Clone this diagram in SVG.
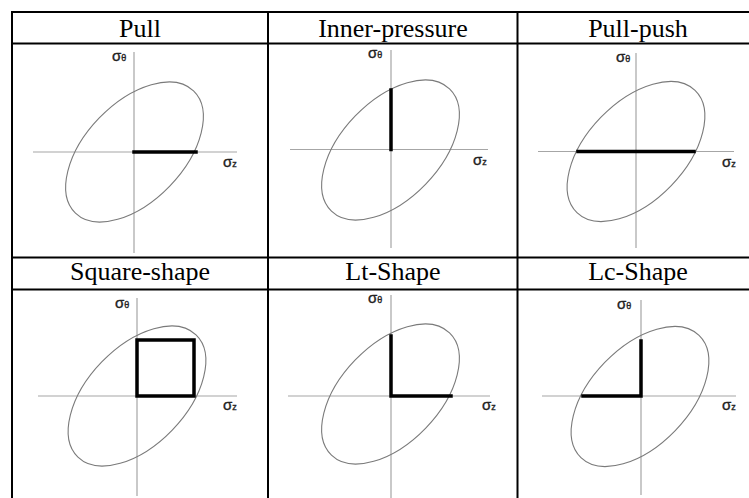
<svg xmlns="http://www.w3.org/2000/svg" width="749" height="498" viewBox="0 0 749 498">
<style>
.grid{stroke:#000;stroke-width:2;fill:none}
.hdr{font-family:"Liberation Serif","Times New Roman",serif;font-size:26px;fill:#000;text-anchor:middle}
.axis{stroke:#a6a6a6;stroke-width:1.2;fill:none}
.ell{stroke:#7a7a7a;stroke-width:1.1;fill:none}
.path{stroke:#000;stroke-width:3.5;fill:none;stroke-linecap:square}
.sig{font-family:"Liberation Sans",Arial,sans-serif;font-size:15px;fill:#222;stroke:#222;stroke-width:0.35}
.sub{font-size:9px}
</style>
<defs>
<ellipse id="el" cx="0" cy="0" rx="85" ry="49" transform="rotate(-46)" class="ell"/>
</defs>
<rect width="749" height="498" fill="#fff"/>
<g id="table">
<path class="grid" d="M12,12 H749 M12,43.5 H749 M12,257.5 H749 M12,289.5 H749 M12,11 V498 M268,12 V498 M517.5,12 V498"/>
</g>
<g id="headers">
<text class="hdr" x="140" y="37">Pull</text>
<text class="hdr" x="393" y="37">Inner-pressure</text>
<text class="hdr" x="638" y="37">Pull-push</text>
<text class="hdr" x="140" y="280">Square-shape</text>
<text class="hdr" x="393" y="280">Lt-Shape</text>
<text class="hdr" x="638" y="280">Lc-Shape</text>
</g>
<g id="pull">
<path class="axis" d="M134,52 V253 M33,152 H237"/>
<use href="#el" transform="translate(134.5,152)"/>
<path class="path" d="M134,152 H196"/>
<text class="sig" x="112" y="61">σ<tspan class="sub">θ</tspan></text>
<text class="sig" x="223" y="167">σ<tspan class="sub">z</tspan></text>
</g>
<g id="inner-pressure">
<path class="axis" d="M391,50 V248 M290,149.5 H488"/>
<use href="#el" transform="translate(390.5,150)"/>
<path class="path" d="M391,149.5 V90"/>
<text class="sig" x="368" y="58">σ<tspan class="sub">θ</tspan></text>
<text class="sig" x="473" y="165">σ<tspan class="sub">z</tspan></text>
</g>
<g id="pull-push">
<path class="axis" d="M636,53 V248 M538,151.5 H734"/>
<use href="#el" transform="translate(636,151.5)"/>
<path class="path" d="M578,151.5 H694"/>
<text class="sig" x="616" y="62">σ<tspan class="sub">θ</tspan></text>
<text class="sig" x="722" y="167">σ<tspan class="sub">z</tspan></text>
</g>
<g id="square-shape">
<path class="axis" d="M137,298 V496 M38,396 H237"/>
<use href="#el" transform="translate(137,396)"/>
<path class="path" d="M137,396 V340 H194 V396 Z"/>
<text class="sig" x="115" y="308">σ<tspan class="sub">θ</tspan></text>
<text class="sig" x="223" y="410">σ<tspan class="sub">z</tspan></text>
</g>
<g id="lt-shape">
<path class="axis" d="M391,295 V498 M288,396 H490"/>
<use href="#el" transform="translate(390.5,394)"/>
<path class="path" d="M391,336 V396 H451"/>
<text class="sig" x="368" y="303">σ<tspan class="sub">θ</tspan></text>
<text class="sig" x="482" y="410">σ<tspan class="sub">z</tspan></text>
</g>
<g id="lc-shape">
<path class="axis" d="M641,300 V495 M542,396 H736"/>
<use href="#el" transform="translate(640,396.5)"/>
<path class="path" d="M641,341 V396 H583"/>
<text class="sig" x="617" y="309">σ<tspan class="sub">θ</tspan></text>
<text class="sig" x="722" y="410">σ<tspan class="sub">z</tspan></text>
</g>
</svg>
